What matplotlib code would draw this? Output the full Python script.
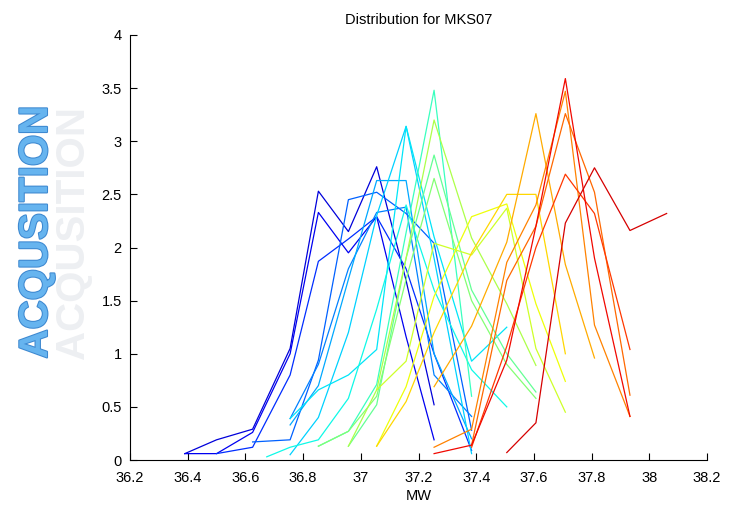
import matplotlib
matplotlib.use("Agg")
import matplotlib.pyplot as plt
from matplotlib import cm
import matplotlib.patheffects as pe

plt.rcParams['font.family'] = ['Liberation Sans', 'DejaVu Sans']

title = "Distribution for MKS07"
xlabel = "MW"
watermark = "ACQUSITION"

g = [36.39, 36.50, 36.625, 36.755, 36.853, 36.957, 37.055, 37.157,
     37.254, 37.384, 37.506, 37.607, 37.709, 37.81, 37.933, 38.06]

# each series: (jet colour level, x values, y values)
s01_x = g[0:9];  s01_y = [0.06, 0.19, 0.29, 1.05, 2.53, 2.15, 2.76, 1.69, 0.52]
s02_x = g[0:9];  s02_y = [0.06, 0.06, 0.26, 1.00, 2.33, 1.95, 2.29, 1.16, 0.19]
s03_x = g[1:10]; s03_y = [0.06, 0.12, 0.80, 1.87, 2.08, 2.29, 1.80, 1.00, 0.09]
s04_x = g[2:10]; s04_y = [0.17, 0.19, 0.94, 2.45, 2.52, 2.32, 2.04, 0.28]
s05_x = g[3:10]; s05_y = [0.39, 0.90, 1.80, 2.33, 2.38, 0.80, 0.41]
s06_x = g[3:10]; s06_y = [0.33, 0.70, 1.70, 2.63, 2.63, 1.00, 0.20]
s07_x = g[3:10]; s07_y = [0.05, 0.40, 1.20, 2.30, 3.14, 1.90, 0.06]
s08_x = g[3:11]; s08_y = [0.39, 0.66, 0.80, 1.04, 3.14, 2.10, 0.93, 1.25]
s09_x = [36.674] + g[3:11]; s09_y = [0.03, 0.12, 0.19, 0.58, 1.42, 2.40, 1.60, 0.85, 0.50]
s10_x = g[4:10]; s10_y = [0.13, 0.27, 0.71, 2.14, 3.48, 0.60]
s11_x = g[5:12]; s11_y = [0.13, 0.52, 1.90, 2.87, 1.60, 1.00, 0.64]
s12_x = g[4:12]; s12_y = [0.13, 0.27, 0.60, 1.70, 2.65, 1.50, 0.90, 0.58]
s13_x = g[5:12]; s13_y = [0.13, 0.66, 1.90, 3.20, 2.09, 1.47, 0.89]
s14_x = g[6:13]; s14_y = [0.66, 0.93, 2.04, 1.93, 2.37, 1.05, 0.45]
s15_x = g[6:13]; s15_y = [0.13, 0.69, 1.54, 2.29, 2.41, 1.47, 0.74]
s16_x = g[6:13]; s16_y = [0.13, 0.55, 1.20, 1.95, 2.50, 2.50, 1.00]
s17_x = g[8:14]; s17_y = [0.69, 1.26, 2.05, 3.26, 1.84, 0.96]
s18_x = g[8:15]; s18_y = [0.12, 0.29, 1.86, 2.40, 3.47, 1.27, 0.41]
s19_x = g[9:15]; s19_y = [0.14, 1.69, 2.20, 3.26, 2.52, 0.61]
s20_x = g[9:15]; s20_y = [0.12, 1.07, 2.00, 2.69, 2.32, 1.04]
s21_x = g[8:15]; s21_y = [0.06, 0.14, 0.94, 2.20, 3.59, 1.90, 0.41]
s22_x = g[10:16]; s22_y = [0.07, 0.35, 2.23, 2.75, 2.16, 2.32]

series = [
    (0.08, s01_x, s01_y), (0.10, s02_x, s02_y), (0.17, s03_x, s03_y),
    (0.22, s04_x, s04_y), (0.25, s05_x, s05_y), (0.29, s06_x, s06_y),
    (0.33, s07_x, s07_y), (0.35, s08_x, s08_y), (0.37, s09_x, s09_y),
    (0.42, s10_x, s10_y), (0.47, s11_x, s11_y), (0.51, s12_x, s12_y),
    (0.56, s13_x, s13_y), (0.60, s14_x, s14_y), (0.64, s15_x, s15_y),
    (0.68, s16_x, s16_y), (0.73, s17_x, s17_y), (0.77, s18_x, s18_y),
    (0.80, s19_x, s19_y), (0.85, s20_x, s20_y), (0.90, s21_x, s21_y),
    (0.925, s22_x, s22_y),
]

xticks = [36.2, 36.4, 36.6, 36.8, 37, 37.2, 37.4, 37.6, 37.8, 38, 38.2]
xticklabels = ["36.2", "36.4", "36.6", "36.8", "37", "37.2", "37.4", "37.6", "37.8", "38", "38.2"]
yticks = [0, 0.5, 1, 1.5, 2, 2.5, 3, 3.5, 4]
yticklabels = ["0", "0.5", "1", "1.5", "2", "2.5", "3", "3.5", "4"]

fig = plt.figure(figsize=(7.31, 5.08), dpi=100)
ax = fig.add_axes([130/731, 1-460/508, 577/731, 425/508])
for lev, xs, ys in series:
    ax.plot(xs, ys, color=cm.jet(lev), lw=0.9)

ax.set_xlim(36.2, 38.2)
ax.set_ylim(0, 4)
ax.set_xticks(xticks)
ax.set_xticklabels(xticklabels)
ax.set_yticks(yticks)
ax.set_yticklabels(yticklabels)
ax.tick_params(direction='in', length=5, width=0.8, labelsize=10.5)
ax.tick_params(axis='x', pad=8)
ax.tick_params(axis='y', pad=6)
for sp in ['top', 'right']:
    ax.spines[sp].set_visible(False)
ax.set_title(title, fontsize=10.5, pad=8)
ax.set_xlabel(xlabel, fontsize=10.5, labelpad=3)

# watermark with faint reflection
fig.text(73/731, 1 - 232/508, watermark, rotation=90, ha='center', va='center',
         fontsize=29, fontweight='bold', color='#c4cad4', alpha=0.3)
fig.text(36/731, 1 - 232/508, watermark, rotation=90, ha='center', va='center',
         fontsize=29, fontweight='bold', color='#66b4ef',
         path_effects=[pe.withStroke(linewidth=1.5, foreground='#3d88d0')])

fig.savefig("out.png", dpi=100)
